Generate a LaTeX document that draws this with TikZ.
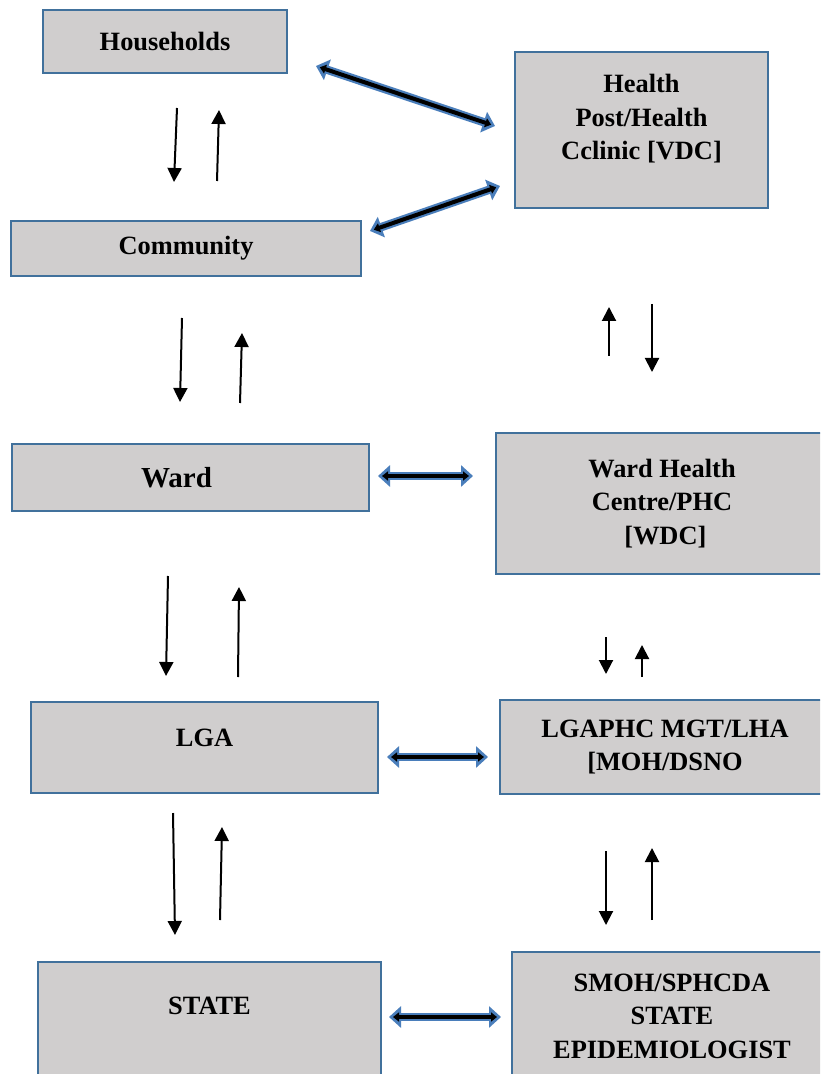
\documentclass[tikz,border=0pt]{standalone}
\usepackage{fontspec}
\setmainfont{Liberation Serif}
\usetikzlibrary{arrows.meta, positioning}
\definecolor{boxgray}{HTML}{D0CECE}
\definecolor{boxblue}{HTML}{41719C}
\definecolor{linkblue}{HTML}{4A7EBB}

\begin{document}
\begin{tikzpicture}[
  x=0.5pt, y=-0.5pt,
  box/.style={rectangle, draw=boxblue, fill=boxgray, line width=1.2pt, align=center,
    inner sep=2pt, font=\bfseries\fontsize{13.2}{16.8}\selectfont},
  flow/.style={-{Triangle[length=7pt, width=7pt]}, line width=1pt},
  link/.style={{Triangle[length=6pt, width=10.5pt]}-{Triangle[length=6pt, width=10.5pt]},
    draw=linkblue, line width=4.2pt,
    postaction={draw=black, line width=2pt,
      arrows={Triangle[length=3pt, width=4.5pt]-Triangle[length=3pt, width=4.5pt]},
      shorten <=2pt, shorten >=2pt}}
]
\useasboundingbox (0,0) rectangle (820,1074);
\clip (0,0) rectangle (820,1074);

% left column
\node[box, minimum width=122pt, minimum height=31.5pt] (hh) at (165,41.5) {Households};
\node[box, minimum width=175pt, minimum height=27.5pt, text depth=3pt] (com) at (186,248.5) {Community};
\node[box, minimum width=178.5pt, minimum height=33.5pt,
  font=\bfseries\fontsize{14.5}{17}\selectfont] (ward) at (190.5,477.5) {Ward\hspace*{14pt}};
\node[box, minimum width=173.5pt, minimum height=45.5pt, text depth=9.5pt] (lga) at (204.5,747.5) {LGA};
\node[box, minimum width=171.5pt, minimum height=59pt, text depth=15pt] (state) at (209.5,1021) {STATE};

% right column
\node[box, minimum width=126.5pt, minimum height=78pt, text depth=13pt] (hp) at (641.5,130)
  {Health\\Post/Health\\Cclinic [VDC]};
\node[box, minimum width=166pt, minimum height=70.5pt] (whc) at (662,503.5)
  {Ward Health\\Centre/PHC\\\ [WDC]};
\node[box, minimum width=165pt, minimum height=47pt] (lgaphc) at (665,747)
  {LGAPHC MGT/LHA\\{[MOH/DSNO}};
\node[box, minimum width=160pt, minimum height=64pt] (smoh) at (672,1016)
  {SMOH/SPHCDA\\STATE\\EPIDEMIOLOGIST};

% arrow ends
\coordinate (d1a) at (177,108);  \coordinate (d1b) at (174,182);
\coordinate (u1a) at (217,181);  \coordinate (u1b) at (219,110);
\coordinate (d2a) at (182,318);  \coordinate (d2b) at (180,402);
\coordinate (u2a) at (240,403);  \coordinate (u2b) at (242,333);
\coordinate (d3a) at (168,576);  \coordinate (d3b) at (166,676);
\coordinate (u3a) at (238,677);  \coordinate (u3b) at (239,587);
\coordinate (d4a) at (173,813);  \coordinate (d4b) at (175,935);
\coordinate (u4a) at (220,920);  \coordinate (u4b) at (222,827);
\coordinate (u5a) at (609,356);  \coordinate (u5b) at (609,307);
\coordinate (d5a) at (652,304);  \coordinate (d5b) at (652,372);
\coordinate (d6a) at (606,637);  \coordinate (d6b) at (606,674);
\coordinate (u6a) at (642,677);  \coordinate (u6b) at (642,645);
\coordinate (d7a) at (606,851);  \coordinate (d7b) at (606,925);
\coordinate (u7a) at (652,920);  \coordinate (u7b) at (652,848);

\coordinate (l1a) at (316,66);   \coordinate (l1b) at (495,126);
\coordinate (l2a) at (370,231);  \coordinate (l2b) at (500,186);
\coordinate (l3a) at (378,476);  \coordinate (l3b) at (473,476);
\coordinate (l4a) at (387,757);  \coordinate (l4b) at (488,757);
\coordinate (l5a) at (389,1017); \coordinate (l5b) at (501,1017);

\draw[flow] (d1a) -- (d1b);
\draw[flow] (u1a) -- (u1b);
\draw[flow] (d2a) -- (d2b);
\draw[flow] (u2a) -- (u2b);
\draw[flow] (d3a) -- (d3b);
\draw[flow] (u3a) -- (u3b);
\draw[flow] (d4a) -- (d4b);
\draw[flow] (u4a) -- (u4b);
\draw[flow] (u5a) -- (u5b);
\draw[flow] (d5a) -- (d5b);
\draw[flow] (d6a) -- (d6b);
\draw[flow] (u6a) -- (u6b);
\draw[flow] (d7a) -- (d7b);
\draw[flow] (u7a) -- (u7b);

\draw[link] (l1a) -- (l1b);
\draw[link] (l2a) -- (l2b);
\draw[link] (l3a) -- (l3b);
\draw[link] (l4a) -- (l4b);
\draw[link] (l5a) -- (l5b);
\end{tikzpicture}
\end{document}
